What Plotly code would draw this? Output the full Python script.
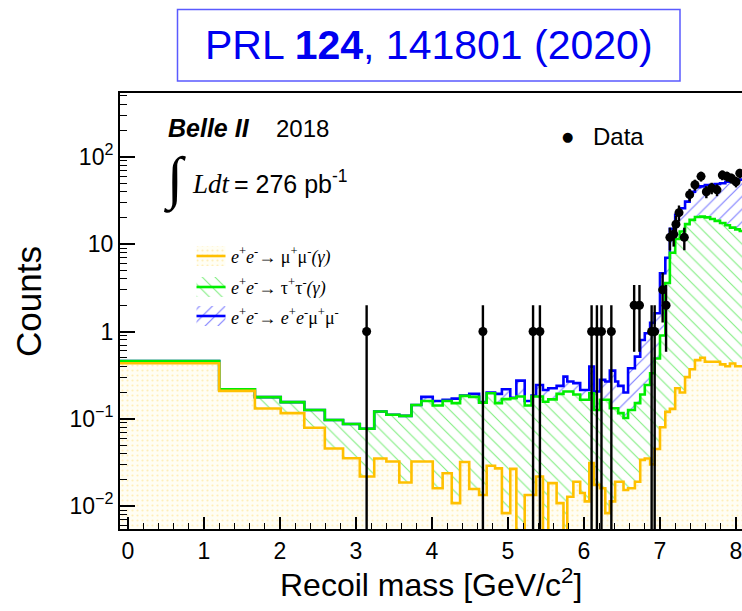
import math
import plotly.graph_objects as go

# ---------------- data ----------------
# variable-width bin edges in recoil mass [GeV/c^2]
bin_edges = [-0.105, 1.20, 1.67, 2.01, 2.32, 2.59, 2.83, 3.05, 3.24, 3.40, 3.57,
             3.73, 3.86, 4.01, 4.14, 4.26, 4.37, 4.49, 4.62, 4.72, 4.83, 4.92,
             5.03, 5.11, 5.22, 5.31, 5.37, 5.46, 5.53, 5.64, 5.73, 5.78, 5.86,
             5.95, 6.01, 6.07, 6.13, 6.21, 6.28, 6.34, 6.41, 6.45, 6.52, 6.58,
             6.67, 6.74, 6.80, 6.87, 6.93, 7.00, 7.07, 7.13, 7.20, 7.26, 7.33,
             7.39, 7.46, 7.53, 7.59, 7.66, 7.72, 7.79, 7.86, 7.92, 7.99, 8.05, 8.12]

# stacked histogram tops (counts per bin)
stack_mumu = [0.433, 0.209, 0.131, 0.116, 0.079, 0.0456, 0.0353, 0.0218, 0.035, 0.0324,
              0.0186, 0.0324, 0.0324, 0.016, 0.0238, 0.0108, 0.032, 0.0157, 0.0134, 0.029,
              0.027, 0.0083, 0.0267, 0.0, 0.0134, 0.0134, 0.0218, 0.0, 0.0183, 0.0108,
              0.0, 0.0128, 0.019, 0.0141, 0.0113, 0.031, 0.0175, 0.016, 0.0083, 0.0113,
              0.019, 0.019, 0.0153, 0.016, 0.019, 0.0338, 0.035, 0.03, 0.045, 0.08,
              0.12, 0.13, 0.224, 0.2, 0.3, 0.37, 0.47, 0.5, 0.45, 0.45,
              0.45, 0.42, 0.40, 0.43, 0.40, 0.40]
stack_tautau = [0.46, 0.218, 0.177, 0.155, 0.126, 0.097, 0.087, 0.077, 0.121, 0.111,
                0.108, 0.144, 0.160, 0.142, 0.160, 0.151, 0.183, 0.178, 0.153, 0.196,
                0.151, 0.168, 0.172, 0.18, 0.142, 0.18, 0.18, 0.157, 0.167, 0.193,
                0.205, 0.205, 0.19, 0.165, 0.165, 0.196, 0.126, 0.165, 0.165, 0.132,
                0.132, 0.116, 0.102, 0.126, 0.151, 0.19, 0.244, 0.333, 0.49, 0.9,
                3.6, 8.0, 11.5, 14.0, 17.0, 19.0, 20.5, 20.7, 20.3, 19.5,
                18.5, 17.5, 16.5, 15.5, 14.8, 14.2]
stack_eemumu = [0.46, 0.218, 0.177, 0.155, 0.126, 0.097, 0.087, 0.077, 0.121, 0.111,
                0.108, 0.144, 0.178, 0.160, 0.165, 0.170, 0.185, 0.193, 0.155, 0.20,
                0.193, 0.218, 0.174, 0.274, 0.16, 0.185, 0.244, 0.214, 0.224, 0.238,
                0.304, 0.267, 0.256, 0.214, 0.214, 0.396, 0.205, 0.279, 0.267, 0.356,
                0.267, 0.238, 0.2, 0.379, 0.516, 0.80, 0.955, 1.26, 1.62, 4.65,
                7.0, 15.0, 21.7, 25.8, 30.8, 40.0, 45.0, 46.0, 47.8, 48.0,
                49.0, 50.0, 52.0, 54.0, 54.5, 55.0]

data_mass = [3.14, 4.67, 5.33, 5.42, 6.10, 6.17, 6.23, 6.36, 6.66, 6.73, 6.89, 6.93,
             7.035, 7.08, 7.13, 7.18, 7.21, 7.25, 7.32, 7.39, 7.46, 7.54, 7.61, 7.68,
             7.75, 7.82, 7.88, 7.94, 8.00, 8.05]
data_counts = [1, 1, 1, 1, 1, 1, 1, 1, 2, 2, 1, 1,
               3, 2, 12, 13, 17, 23, 12, 37, 48, 60, 40, 44,
               42, 62, 60, 57, 52, 65]

x_ticks = [0, 1, 2, 3, 4, 5, 6, 7, 8]
y_ticks = [0.01, 0.1, 1, 10, 100]
y_ticktext = ["10<sup>\u22122</sup>", "10<sup>\u22121</sup>", "1", "10", "10<sup>2</sup>"]

legend_labels = [
    "<i>e</i><sup>+</sup><i>e</i><sup>-</sup>\u2192 \u03bc<sup>+</sup>\u03bc<sup>-</sup><i>(\u03b3)</i>",
    "<i>e</i><sup>+</sup><i>e</i><sup>-</sup>\u2192 \u03c4<sup>+</sup>\u03c4<sup>-</sup><i>(\u03b3)</i>",
    "<i>e</i><sup>+</sup><i>e</i><sup>-</sup>\u2192 <i>e</i><sup>+</sup><i>e</i><sup>-</sup>\u03bc<sup>+</sup>\u03bc<sup>-</sup>",
]

# ---------------- geometry / style ----------------
W, H = 742, 611
PL, PR, PT, PB = 120, 742, 93, 529
XMIN, XMAX = -0.105, 8.079
YL0, YL1 = -2.263, 2.733
FLOOR = 1e-4

def px_x(px):
    return (px - PL) / (PR - PL)

def px_y(py):
    return (PB - py) / (PB - PT)

def dx(px):
    return XMIN + (px - PL) / (PR - PL) * (XMAX - XMIN)

def dy(py):
    return 10 ** (YL1 - (py - PT) / (PB - PT) * (YL1 - YL0))

def step(vals):
    v = [max(a, 1e-3) for a in vals]
    return v + [v[-1]]

YEL = "#FFC000"
GRN = "#00EE00"
BLU = "#0000FF"

pat_mumu = dict(shape=".", fgcolor="rgba(255,205,60,0.32)", bgcolor="#FFFEF4",
                size=5, solidity=0.15, fillmode="replace")
pat_tau = dict(shape="\\", fgcolor="#80EE80", bgcolor="rgba(255,255,255,0)",
               size=9, solidity=0.12, fillmode="replace")
pat_ee = dict(shape="/", fgcolor="#8080FF", bgcolor="rgba(255,255,255,0)",
              size=9, solidity=0.13, fillmode="replace")

fig = go.Figure()

# fills (stacked)
fig.add_trace(go.Scatter(x=bin_edges, y=[FLOOR] * len(bin_edges), mode="lines",
                         line=dict(width=0, shape="hv"), showlegend=False, hoverinfo="skip"))
fig.add_trace(go.Scatter(x=bin_edges, y=step(stack_mumu), mode="lines", fill="tonexty",
                         fillpattern=pat_mumu, line=dict(width=0, shape="hv"),
                         showlegend=False, hoverinfo="skip"))
fig.add_trace(go.Scatter(x=bin_edges, y=step(stack_tautau), mode="lines", fill="tonexty",
                         fillpattern=pat_tau, line=dict(width=0, shape="hv"),
                         showlegend=False, hoverinfo="skip"))
fig.add_trace(go.Scatter(x=bin_edges, y=step(stack_eemumu), mode="lines", fill="tonexty",
                         fillpattern=pat_ee, line=dict(width=0, shape="hv"),
                         showlegend=False, hoverinfo="skip"))

# outlines: blue under green under yellow
for vals, col in [(stack_eemumu, BLU), (stack_tautau, GRN), (stack_mumu, YEL)]:
    fig.add_trace(go.Scatter(x=bin_edges, y=step(vals), mode="lines",
                             line=dict(color=col, width=2.6, shape="hv"),
                             showlegend=False, hoverinfo="skip"))

# data with sqrt(N) errors
err_up = [math.sqrt(n) for n in data_counts]
err_dn = [n - max(n - math.sqrt(n), FLOOR) for n in data_counts]
fig.add_trace(go.Scatter(x=data_mass, y=data_counts, mode="markers",
                         marker=dict(color="black", size=9),
                         error_y=dict(type="data", array=err_up, arrayminus=err_dn,
                                      color="black", thickness=2.4, width=0),
                         showlegend=False))

# manual legend keys for the MC components
key_rows = [256, 287, 316]
key_x0, key_x1 = 196.5, 225.5
for row, pat, col in zip(key_rows, [pat_mumu, pat_tau, pat_ee], [YEL, GRN, BLU]):
    xs = [dx(key_x0), dx(key_x1), dx(key_x1), dx(key_x0), dx(key_x0)]
    ys = [dy(row - 10), dy(row - 10), dy(row + 10), dy(row + 10), dy(row - 10)]
    fig.add_trace(go.Scatter(x=xs, y=ys, mode="lines", fill="toself", fillpattern=pat,
                             line=dict(width=0), showlegend=False, hoverinfo="skip"))
    fig.add_trace(go.Scatter(x=[dx(key_x0), dx(key_x1)], y=[dy(row), dy(row)], mode="lines",
                             line=dict(color=col, width=2.6), showlegend=False,
                             hoverinfo="skip"))

SANS = "Liberation Sans"
SERIF = "Liberation Serif"

ann = []
ann.append(dict(text="PRL <b>124</b>, 141801 (2020)", x=px_x(428.5), y=px_y(45),
                xanchor="center", yanchor="middle",
                font=dict(family=SANS, size=41, color="#0000F0")))
ann.append(dict(text="<b><i>Belle II</i></b>", x=px_x(166), y=px_y(128),
                xanchor="left", yanchor="middle", font=dict(family=SANS, size=25, color="black")))
ann.append(dict(text="2018", x=px_x(274), y=px_y(128), xanchor="left", yanchor="middle",
                font=dict(family=SANS, size=24, color="black")))
ann.append(dict(text="\u222b", x=px_x(174), y=px_y(179), xanchor="center", yanchor="middle",
                font=dict(family=SERIF, size=58, color="black")))
ann.append(dict(text="<i>Ldt</i>", x=px_x(190), y=px_y(184), xanchor="left", yanchor="middle",
                font=dict(family=SERIF, size=27, color="black")))
ann.append(dict(text="= 276 pb<sup>-1</sup>", x=px_x(232), y=px_y(182), xanchor="left",
                yanchor="middle", font=dict(family=SANS, size=25, color="black")))
ann.append(dict(text="\u25cf", x=px_x(567), y=px_y(137), xanchor="center", yanchor="middle",
                font=dict(family="DejaVu Sans", size=13, color="black")))
ann.append(dict(text="Data", x=px_x(591), y=px_y(137), xanchor="left", yanchor="middle",
                font=dict(family=SANS, size=24, color="black")))
for row, lab in zip(key_rows, legend_labels):
    ann.append(dict(text=lab, x=px_x(229), y=px_y(row), xanchor="left", yanchor="middle",
                    font=dict(family=SERIF, size=18, color="black")))
ann.append(dict(text="Recoil mass [GeV/c<sup>2</sup>]", x=px_x(431), y=px_y(583),
                xanchor="center", yanchor="middle", font=dict(family=SANS, size=32, color="black")))
ann.append(dict(text="Counts", x=px_x(28), y=px_y(302), xanchor="center", yanchor="middle",
                textangle=-90, font=dict(family=SANS, size=35, color="black")))
for a in ann:
    a.update(xref="paper", yref="paper", showarrow=False)

minor_y = [k * 10 ** e for e in range(-3, 3) for k in range(2, 10)]

fig.update_layout(
    width=W, height=H,
    margin=dict(l=PL, r=W - PR, t=PT, b=H - PB, pad=0),
    paper_bgcolor="white", plot_bgcolor="white",
    showlegend=False,
    annotations=ann,
    shapes=[dict(type="rect", xref="paper", yref="paper",
                 x0=px_x(177.5), x1=px_x(680), y0=px_y(81), y1=px_y(9.5),
                 line=dict(color="#5A5AFF", width=1.5), fillcolor="rgba(0,0,0,0)")],
    xaxis=dict(range=[XMIN, XMAX], tickmode="array", tickvals=x_ticks,
               ticks="inside", ticklen=12, tickwidth=1.5, tickcolor="black",
               minor=dict(ticks="inside", ticklen=6, tickwidth=1.2, tickcolor="black",
                          dtick=0.2, tick0=0, showgrid=False),
               showline=True, linewidth=2, linecolor="black", mirror=True,
               showgrid=False, zeroline=False, ticklabeloverflow="allow",
               tickfont=dict(family=SANS, size=23, color="black")),
    yaxis=dict(type="log", range=[YL0, YL1], tickmode="array", tickvals=y_ticks,
               ticktext=y_ticktext, ticks="inside", ticklen=15, tickwidth=1.5,
               tickcolor="black",
               minor=dict(ticks="inside", ticklen=7, tickwidth=1.2, tickcolor="black",
                          tickmode="array", tickvals=minor_y, showgrid=False),
               showline=True, linewidth=2, linecolor="black",
               showgrid=False, zeroline=False,
               tickfont=dict(family=SANS, size=23, color="black")),
)

fig.write_html("out.html")
